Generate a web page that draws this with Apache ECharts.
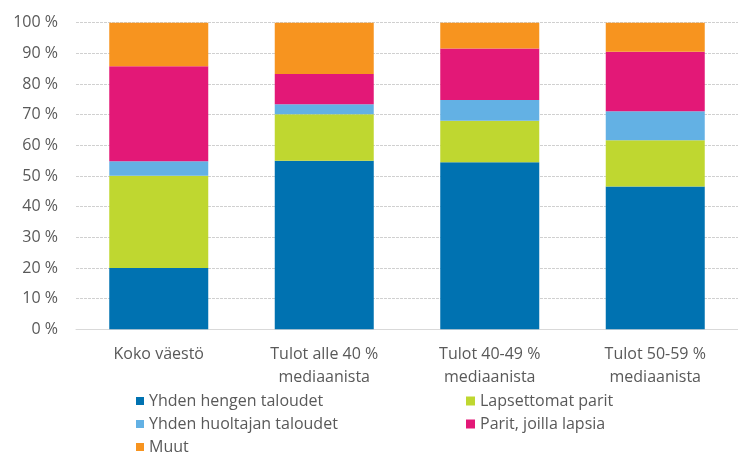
<!DOCTYPE html>
<html><head><meta charset="utf-8">
<script src="https://cdn.jsdelivr.net/npm/echarts@6/dist/echarts.min.js"></script>
<style>html,body{margin:0;padding:0;background:#fff}#c{width:738px;height:452px}</style>
</head><body><div id="c"></div>
<script>
var categories = ['Koko väestö', 'Tulot alle 40 %\nmediaanista', 'Tulot 40-49 %\nmediaanista', 'Tulot 50-59 %\nmediaanista'];
var seriesNames = ['Yhden hengen taloudet', 'Lapsettomat parit', 'Yhden huoltajan taloudet', 'Parit, joilla lapsia', 'Muut'];
var yhdenHengen = [20.0, 55.0, 54.5, 46.6];
var lapsettomat = [30.1, 15.1, 13.5, 15.1];
var huoltajan = [4.7, 3.3, 6.8, 9.4];
var paritLapsia = [31.0, 9.9, 16.8, 19.4];
var muut = [14.2, 16.7, 8.4, 9.5];
var colors = ['#0072B1', '#BFD730', '#63B1E4', '#E31877', '#F7941F'];
var font = 'Open Sans';
var fs = 16;
var values = [yhdenHengen, lapsettomat, huoltajan, paritLapsia, muut];
var chart = echarts.init(document.getElementById('c'));
var legendText = {fontSize: fs, color: '#595959', fontFamily: font, lineHeight: 16};
chart.setOption({
  animation: false,
  textStyle: {fontFamily: font},
  grid: {left: 76, width: 666, top: 22.7, bottom: 122.7},
  legend: [{
    data: [seriesNames[0], seriesNames[2], seriesNames[4]],
    orient: 'vertical', left: 136, top: 393, height: 100, itemWidth: 8, itemHeight: 8, itemGap: 7, itemTextGap: 6,
    icon: 'rect', padding: 0, textStyle: legendText
  }, {
    data: [seriesNames[1], seriesNames[3]],
    orient: 'vertical', left: 466, top: 393, height: 100, itemWidth: 9, itemHeight: 9, itemGap: 7, itemTextGap: 6,
    icon: 'rect', padding: 0, textStyle: legendText
  }],
  xAxis: {
    type: 'category', data: categories,
    axisLine: {show: true, lineStyle: {color: '#D9D9D9'}},
    axisTick: {show: false},
    axisLabel: {fontSize: fs, color: '#595959', margin: 14, lineHeight: 22.5, fontFamily: font}
  },
  yAxis: {
    type: 'value', min: 0, max: 100, interval: 10,
    axisLabel: {formatter: '{value} %', fontSize: fs, color: '#595959', margin: 18, fontFamily: font},
    axisLine: {show: false}, axisTick: {show: false},
    splitLine: {lineStyle: {color: '#D0D0D0', type: [3, 1]}}
  },
  series: seriesNames.map(function (n, i) {
    return {name: n, type: 'bar', stack: 'a', data: values[i], barWidth: 99,
      itemStyle: {color: colors[i]}};
  })
});
</script></body></html>
